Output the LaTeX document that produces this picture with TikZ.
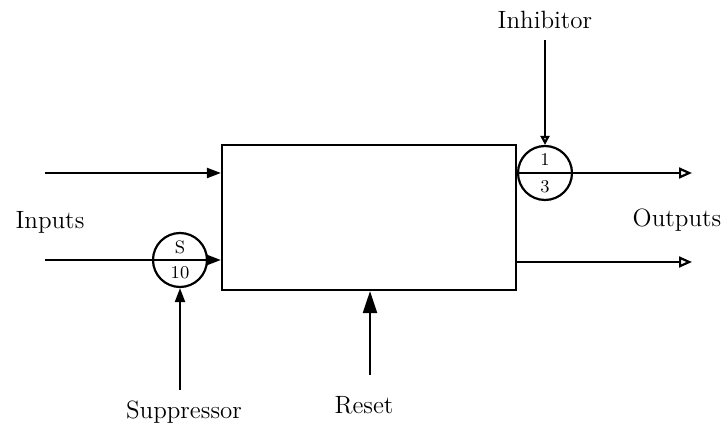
\documentclass[tikz,border=0pt]{standalone}
\usetikzlibrary{arrows.meta}
\begin{document}
\begin{tikzpicture}[x=0.5pt,y=-0.5pt, line width=1.1pt,
  lbl/.style={font=\fontsize{12.5}{14}\selectfont, inner sep=0},
  small/.style={font=\fontsize{9}{10}\selectfont, inner sep=0},
  gate/.style={circle, draw, minimum size=27pt, inner sep=0},
  fin/.style={-{Triangle[length=7pt,width=5pt]}},
  fout/.style={-{Triangle[open,length=6.5pt,width=5.5pt]}}]
\useasboundingbox (0,0) rectangle (728,432);
\node[draw, minimum width=147pt, minimum height=72.5pt, inner sep=0] (box) at (369,217.5) {};
\node[gate] (sg) at (180,260) {};
\node[gate] (ig) at (545,173) {};
\node[small] (s1) at (180,247) {S};
\node[small] (s2) at (180,273) {10};
\node[small] (i1) at (545,160) {1};
\node[small] (i2) at (545,187) {3};
\coordinate (in1) at (45,173);
\coordinate (in2) at (45,260);
\coordinate (supS) at (180,390);
\coordinate (inhS) at (545,40);
\coordinate (out1) at (692,173);
\coordinate (out2) at (692,262);
\coordinate (rs) at (370,375);
\draw[fin] (in1) -- (in1 -| box.west);
\draw[fin] (in2) -- (in2 -| box.west);
\draw[fin] (supS) -- (sg.south);
\draw[-{Triangle[open,length=4.5pt,width=4.5pt]}] (inhS) -- (ig.north);
\draw[fout] (ig.west) -- (out1);
\draw[fout] (out2 -| box.east) -- (out2);
\draw[-{Triangle[length=11pt,width=7pt]}] (rs) -- (rs |- box.south);
\node[lbl] (linp) at (50,222) {Inputs};
\node[lbl] (lout) at (677,220) {Outputs};
\node[lbl] (linh) at (545,20) {Inhibitor};
\node[lbl] (lsup) at (184,412) {Suppressor};
\node[lbl] (lres) at (364,405) {Reset};
\end{tikzpicture}
\end{document}
